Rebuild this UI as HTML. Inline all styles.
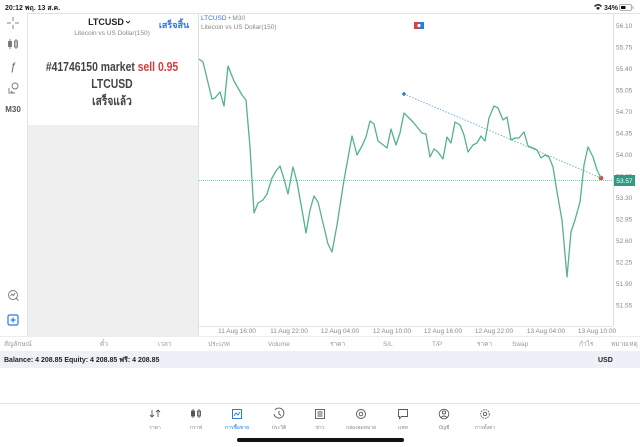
<!DOCTYPE html>
<html><head><meta charset="utf-8">
<style>
html,body{margin:0;padding:0;background:#fff;}
body{width:640px;height:447px;overflow:hidden;position:relative;font-family:"Liberation Sans","DejaVu Sans",sans-serif;}
svg{position:absolute;left:0;top:0;}
text{font-family:"Liberation Sans","DejaVu Sans",sans-serif;}
</style></head>
<body>
<svg width="640" height="447" viewBox="0 0 640 447" xmlns="http://www.w3.org/2000/svg">
  <!-- status bar -->
  <text x="5" y="10" font-size="7" font-weight="bold" fill="#222">20:12  พฤ. 13 ส.ค.</text>
  <g fill="#222">
    <path d="M594 6 q4 -4 8 0 l-1 1 q-3 -3 -6 0z M596 8 q2 -2 4 0 l-2 2z"/>
    <text x="604" y="10" font-size="7" font-weight="bold">34%</text>
    <rect x="619.5" y="4.5" width="12" height="6" rx="1.5" fill="none" stroke="#999" stroke-width="0.8"/>
    <rect x="621" y="6" width="4.5" height="3" fill="#111"/>
    <rect x="632.5" y="6.3" width="1" height="2.5" fill="#999"/>
  </g>
  <line x1="27" y1="13.5" x2="640" y2="13.5" stroke="#e2e2e2" stroke-width="1"/>

  <!-- left toolbar -->
  <g stroke="#777" stroke-width="0.9" fill="none">
    <line x1="13" y1="17" x2="13" y2="21"/><line x1="13" y1="25" x2="13" y2="29"/>
    <line x1="7" y1="23" x2="11" y2="23"/><line x1="15" y1="23" x2="19" y2="23"/>
    <line x1="10" y1="39" x2="10" y2="49"/><rect x="8.5" y="41.5" width="3" height="5" fill="#777"/>
    <line x1="16" y1="39" x2="16" y2="49"/><rect x="14.5" y="41" width="3" height="6"/>
    <circle cx="15" cy="86" r="3"/><path d="M9 88 v5 h6 M11 91 l2 2"/>
    <circle cx="13" cy="295" r="4.5"/><path d="M16 298 l2.5 2.5 M10.5 296 l1.5-2 1.5 1.5 1.5-2.5"/>
  </g>
  <text x="13" y="70" font-size="11" font-style="italic" fill="#666" text-anchor="middle" font-family="Liberation Serif,serif">ƒ</text>
  <text x="13" y="112" font-size="8" font-weight="bold" fill="#555" text-anchor="middle">M30</text>
  <rect x="8" y="315" width="10" height="10" rx="1.5" fill="none" stroke="#2a7ae2" stroke-width="1.2"/>
  <path d="M13 317.5 v5 M10.5 320 h5" stroke="#2a7ae2" stroke-width="1.2"/>

  <!-- left panel -->
  <rect x="27" y="126" width="171" height="210" fill="#efefef"/>
  <line x1="27.5" y1="14" x2="27.5" y2="336" stroke="#e4e4e4"/>
  <line x1="27" y1="126" x2="198" y2="126" stroke="#e6e6e6"/>
  <line x1="198.5" y1="14" x2="198.5" y2="336" stroke="#e0e0e0"/>
  <text x="106" y="25" font-size="9" font-weight="bold" fill="#222" text-anchor="middle">LTCUSD</text>
  <path d="M126 21 l2 2 2-2" stroke="#222" stroke-width="0.9" fill="none"/>
  <text x="112" y="35" font-size="6.5" fill="#888" text-anchor="middle">Litecoin vs US Dollar(150)</text>
  <text x="174" y="28" font-size="9" font-weight="bold" fill="#2a7ae2" text-anchor="middle">เสร็จสิ้น</text>
  <g transform="translate(112,71) scale(0.8,1)">
    <text x="0" y="0" font-size="13" font-weight="bold" fill="#444" text-anchor="middle">#41746150 market <tspan fill="#d93a36">sell 0.95</tspan></text>
  </g>
  <g transform="translate(112,88) scale(0.8,1)">
    <text x="0" y="0" font-size="13" font-weight="bold" fill="#444" text-anchor="middle">LTCUSD</text>
  </g>
  <g transform="translate(112,105) scale(0.85,1)">
    <text x="0" y="0" font-size="12" font-weight="bold" fill="#444" text-anchor="middle">เสร็จแล้ว</text>
  </g>

  <!-- chart frame -->
  <line x1="613.5" y1="14" x2="613.5" y2="326" stroke="#e0e0e0"/>
  <line x1="198" y1="326.5" x2="613" y2="326.5" stroke="#e4e4e4"/>
  <text x="201" y="20" font-size="6.5" fill="#2a7ae2">LTCUSD <tspan fill="#888">• M30</tspan></text>
  <text x="201" y="29" font-size="6.5" fill="#888">Litecoin vs US Dollar(150)</text>
  <rect x="414" y="22" width="5" height="7" fill="#d9453e"/>
  <rect x="419" y="22" width="5" height="7" fill="#2a7ae2"/>
  <circle cx="419" cy="25.5" r="1.6" fill="#fff"/>

  <!-- y axis labels -->
  <g font-size="6.5" fill="#8a8a8a">
    <text x="616" y="28">56.10</text>
    <text x="616" y="49.5">55.75</text>
    <text x="616" y="71">55.40</text>
    <text x="616" y="92.5">55.05</text>
    <text x="616" y="114">54.70</text>
    <text x="616" y="135.5">54.35</text>
    <text x="616" y="157">54.00</text>
    <text x="616" y="178.5">53.65</text>
    <text x="616" y="200">53.30</text>
    <text x="616" y="221.5">52.95</text>
    <text x="616" y="243">52.60</text>
    <text x="616" y="264.5">52.25</text>
    <text x="616" y="286">51.90</text>
    <text x="616" y="307.5">51.55</text>
  </g>

  <!-- current price line -->
  <line x1="199" y1="180.5" x2="613" y2="180.5" stroke="#7fcfb5" stroke-width="1" stroke-dasharray="1,1"/>
  <rect x="614" y="175" width="21" height="11" fill="#2f9b83"/>
  <text x="624.5" y="183" font-size="6.5" fill="#fff" text-anchor="middle">53.57</text>

  <!-- trend line -->
  <line x1="404" y1="94" x2="601" y2="178" stroke="#6aa8e0" stroke-width="0.9" stroke-dasharray="1.5,1.5"/>
  <path d="M402 94 h4 M404 92 v4" stroke="#2a7ae2" stroke-width="1.6"/>
  <circle cx="601" cy="178" r="2.3" fill="#d9453e"/>

  <!-- price series -->
  <polyline fill="none" stroke="#56b28b" stroke-width="1.3" stroke-linejoin="round"
    points="199,59 203,62 212,99 215,98 220,92 224,106 228,66 234,81 242,95 246,100 250,147 254,213 258,203 263,200 267,194 272,178 276,171 280,166 284,179 288,194 293,167 297,182 302,210 306,233 310,210 314,196 318,202 323,223 328,244 332,252 337,225 344,180 352,136 357,155 362,146 366,137 370,121 374,124 378,141 382,144 387,148 391,129 396,145 400,133 404,113 413,122 422,133 426,134 430,157 434,149 438,152 443,159 447,137 451,143 455,122 460,125 464,135 468,152 473,145 477,143 481,136 485,141 489,118 494,106 498,108 503,120 507,117 511,140 515,138 519,138 524,132 528,146 533,148 537,150 541,158 545,155 549,157 553,167 557,192 562,220 567,277 571,232 575,220 580,202 584,165 588,147 593,157 597,170 601,178"/>

  <!-- x axis labels -->
  <g font-size="6.5" fill="#8a8a8a" text-anchor="middle">
    <text x="237" y="333">11 Aug 16:00</text>
    <text x="289" y="333">11 Aug 22:00</text>
    <text x="340" y="333">12 Aug 04:00</text>
    <text x="392" y="333">12 Aug 10:00</text>
    <text x="443" y="333">12 Aug 16:00</text>
    <text x="494" y="333">12 Aug 22:00</text>
    <text x="546" y="333">13 Aug 04:00</text>
    <text x="597" y="333">13 Aug 10:00</text>
  </g>

  <!-- header row -->
  <line x1="0" y1="336.5" x2="640" y2="336.5" stroke="#ececec"/>
  <g font-size="6.5" fill="#9a9a9a">
    <text x="4" y="346">สัญลักษณ์</text>
    <text x="100" y="346">ตั๋ว</text>
    <text x="158" y="346">เวลา</text>
    <text x="208" y="346">ประเภท</text>
    <text x="268" y="346">Volume</text>
    <text x="330" y="346">ราคา</text>
    <text x="383" y="346">S/L</text>
    <text x="432" y="346">T/P</text>
    <text x="477" y="346">ราคา</text>
    <text x="512" y="346">Swap</text>
    <text x="579" y="346">กำไร</text>
    <text x="611" y="346">หมายเหตุ</text>
  </g>
  <rect x="0" y="351" width="640" height="17" fill="#edf0f7"/>
  <text x="4" y="362" font-size="7" font-weight="bold" fill="#222">Balance: 4 208.85 Equity: 4 208.85 ฟรี: 4 208.85</text>
  <text x="598" y="362" font-size="7" font-weight="bold" fill="#222">USD</text>

  <!-- bottom nav -->
  <line x1="0" y1="403.5" x2="640" y2="403.5" stroke="#e4e4e4"/>
  <g stroke="#555" stroke-width="0.9" fill="none">
    <!-- ราคา -->
    <path d="M152 410 v7 M150 415 l2 2 2-2 M158 417 v-7 M156 412 l2-2 2 2"/>
    <!-- กราฟ -->
    <line x1="193" y1="409" x2="193" y2="418"/><rect x="191.5" y="411" width="3" height="5" fill="#555"/>
    <line x1="199" y1="409" x2="199" y2="418"/><rect x="197.5" y="411" width="3" height="5"/>
    <!-- ประวัติ -->
    <path d="M275 410 a5 5 0 1 1 -1 4 M279 411 v3 l2 1.5"/>
    <!-- ข่าว -->
    <rect x="315.5" y="409.5" width="9" height="9"/><path d="M317.5 412 h5 M317.5 414 h5 M317.5 416 h5"/>
    <!-- กล่องจดหมาย -->
    <circle cx="361" cy="414" r="4.5"/><circle cx="361" cy="414" r="1.8"/>
    <!-- แชท -->
    <path d="M398.5 409.5 h9 v7 h-6 l-2 2 v-2 h-1z"/>
    <!-- บัญชี -->
    <circle cx="444" cy="414" r="4.8"/><circle cx="444" cy="412.5" r="1.6"/><path d="M441 417.5 q3 -3 6 0"/>
    <!-- การตั้งค่า -->
    <circle cx="485" cy="414" r="4.3" stroke-dasharray="1.6,1"/><circle cx="485" cy="414" r="1.7"/>
  </g>
  <rect x="232.5" y="409.5" width="9" height="9" fill="none" stroke="#2a7ae2" stroke-width="1"/>
  <path d="M234 416 l2-3 2 2 2-3" stroke="#2a7ae2" stroke-width="0.9" fill="none"/>
  <g font-size="5" fill="#888" text-anchor="middle">
    <text x="155" y="429">ราคา</text>
    <text x="196" y="429">กราฟ</text>
    <text x="237" y="429" fill="#2a7ae2">การซื้อขาย</text>
    <text x="279" y="429">ประวัติ</text>
    <text x="320" y="429">ข่าว</text>
    <text x="361" y="429">กล่องจดหมาย</text>
    <text x="403" y="429">แชท</text>
    <text x="444" y="429">บัญชี</text>
    <text x="485" y="429">การตั้งค่า</text>
  </g>
  <rect x="237" y="438" width="167" height="4" rx="2" fill="#111"/>
</svg>
</body></html>
